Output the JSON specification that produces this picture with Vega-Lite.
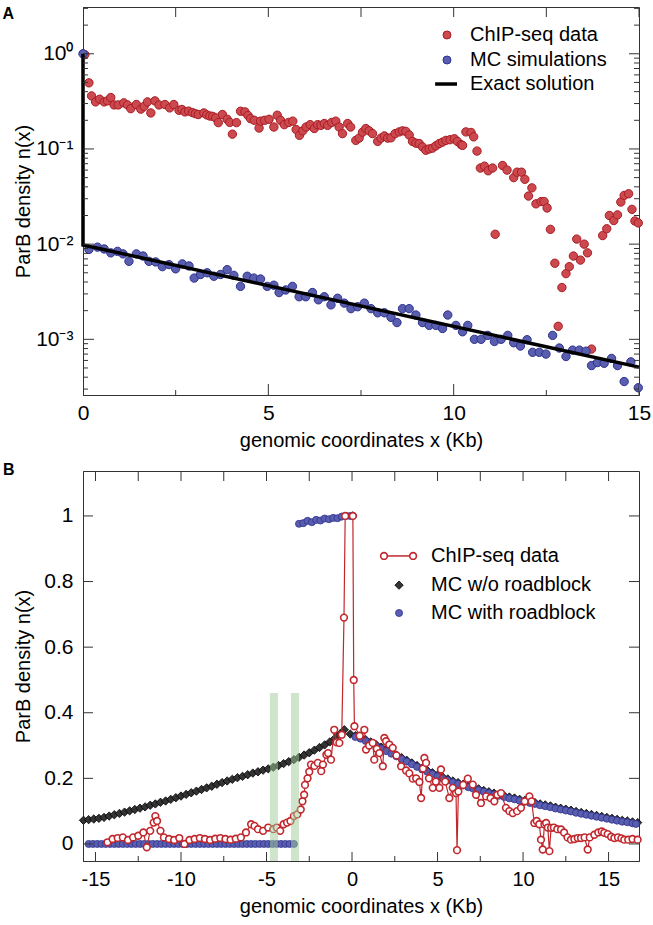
{
"$schema": "https://vega.github.io/schema/vega-lite/v6.json",
"background": "white",
"padding": {"left": 2, "top": 5, "right": 5, "bottom": 2},
"spacing": 10,
"config": {
 "font": "Liberation Sans",
 "view": {"stroke": "#333", "strokeWidth": 1},
 "axis": {"domainColor": "#333", "labelColor": "#000", "titleColor": "#000", "labelFont": "Liberation Sans", "titleFont": "Liberation Sans", "labelFontSize": 20, "titleFontSize": 20, "titleFontWeight": "normal", "ticks": false, "grid": false, "labelOverlap": false, "labelFlush": false, "domainWidth": 1},
 "tick": {"thickness": 1, "color": "#333", "opacity": 1},
 "text": {"font": "Liberation Sans", "fontSize": 20, "color": "#000", "align": "left", "baseline": "middle"}
},
"datasets": {
 "aXMaj": [{"v":0},{"v":5},{"v":10},{"v":15}],
 "aXMin": [{"v":2.5},{"v":7.5},{"v":12.5}],
 "aXAll": [{"v":0},{"v":2.5},{"v":5},{"v":7.5},{"v":10},{"v":12.5},{"v":15}],
 "aYMaj": [{"v":0.001},{"v":0.01},{"v":0.1},{"v":1}],
 "aYMin": [{"v":0.0003},{"v":0.0004},{"v":0.0005},{"v":0.0006},{"v":0.0007},{"v":0.0008},{"v":0.0009},{"v":0.002},{"v":0.003},{"v":0.004},{"v":0.005},{"v":0.006},{"v":0.007},{"v":0.008},{"v":0.009},{"v":0.02},{"v":0.03},{"v":0.04},{"v":0.05},{"v":0.06},{"v":0.07},{"v":0.08},{"v":0.09},{"v":0.2},{"v":0.3},{"v":0.4},{"v":0.5},{"v":0.6},{"v":0.7},{"v":0.8},{"v":0.9},{"v":2},{"v":3}],
 "bXMaj": [{"v":-15},{"v":-10},{"v":-5},{"v":0},{"v":5},{"v":10},{"v":15}],
 "bXMin": [{"v":-12.5},{"v":-7.5},{"v":-2.5},{"v":2.5},{"v":7.5},{"v":12.5}],
 "bXAll": [{"v":-15},{"v":-12.5},{"v":-10},{"v":-7.5},{"v":-5},{"v":-2.5},{"v":0},{"v":2.5},{"v":5},{"v":7.5},{"v":10},{"v":12.5},{"v":15}],
 "bY": [{"v":0},{"v":0.2},{"v":0.4},{"v":0.6},{"v":0.8},{"v":1}],
 "aRed": [{"x":0.05,"y":0.98},{"x":0.16,"y":0.495},{"x":0.23,"y":0.361},{"x":0.34,"y":0.312},{"x":0.45,"y":0.333},{"x":0.57,"y":0.312},{"x":0.66,"y":0.32},{"x":0.75,"y":0.347},{"x":0.84,"y":0.29},{"x":0.95,"y":0.29},{"x":1.1,"y":0.305},{"x":1.2,"y":0.29},{"x":1.29,"y":0.265},{"x":1.44,"y":0.293},{"x":1.56,"y":0.262},{"x":1.65,"y":0.28},{"x":1.74,"y":0.312},{"x":1.83,"y":0.239},{"x":1.94,"y":0.32},{"x":2.05,"y":0.29},{"x":2.21,"y":0.293},{"x":2.34,"y":0.27},{"x":2.45,"y":0.293},{"x":2.59,"y":0.255},{"x":2.67,"y":0.26},{"x":2.75,"y":0.245},{"x":2.85,"y":0.25},{"x":2.95,"y":0.241},{"x":3.03,"y":0.235},{"x":3.11,"y":0.23},{"x":3.26,"y":0.239},{"x":3.34,"y":0.228},{"x":3.42,"y":0.222},{"x":3.5,"y":0.22},{"x":3.58,"y":0.212},{"x":3.65,"y":0.189},{"x":3.76,"y":0.23},{"x":3.89,"y":0.205},{"x":3.96,"y":0.19},{"x":4.03,"y":0.143},{"x":4.14,"y":0.189},{"x":4.25,"y":0.249},{"x":4.37,"y":0.245},{"x":4.45,"y":0.225},{"x":4.52,"y":0.208},{"x":4.62,"y":0.2},{"x":4.75,"y":0.166},{"x":4.79,"y":0.196},{"x":4.9,"y":0.2},{"x":5.02,"y":0.205},{"x":5.15,"y":0.17},{"x":5.24,"y":0.226},{"x":5.33,"y":0.2},{"x":5.43,"y":0.18},{"x":5.55,"y":0.19},{"x":5.66,"y":0.196},{"x":5.75,"y":0.16},{"x":5.84,"y":0.139},{"x":5.93,"y":0.155},{"x":6.02,"y":0.17},{"x":6.13,"y":0.18},{"x":6.24,"y":0.164},{"x":6.33,"y":0.18},{"x":6.42,"y":0.177},{"x":6.51,"y":0.185},{"x":6.6,"y":0.177},{"x":6.71,"y":0.19},{"x":6.82,"y":0.196},{"x":6.91,"y":0.17},{"x":7.0,"y":0.145},{"x":7.14,"y":0.185},{"x":7.22,"y":0.17},{"x":7.36,"y":0.123},{"x":7.45,"y":0.13},{"x":7.54,"y":0.15},{"x":7.63,"y":0.164},{"x":7.72,"y":0.155},{"x":7.81,"y":0.145},{"x":7.95,"y":0.12},{"x":8.04,"y":0.13},{"x":8.13,"y":0.137},{"x":8.22,"y":0.13},{"x":8.31,"y":0.131},{"x":8.42,"y":0.145},{"x":8.53,"y":0.151},{"x":8.62,"y":0.155},{"x":8.71,"y":0.153},{"x":8.8,"y":0.14},{"x":8.89,"y":0.12},{"x":8.98,"y":0.115},{"x":9.07,"y":0.114},{"x":9.16,"y":0.105},{"x":9.25,"y":0.097},{"x":9.34,"y":0.1},{"x":9.43,"y":0.102},{"x":9.52,"y":0.108},{"x":9.61,"y":0.114},{"x":9.7,"y":0.118},{"x":9.79,"y":0.123},{"x":9.9,"y":0.125},{"x":10.02,"y":0.128},{"x":10.1,"y":0.12},{"x":10.2,"y":0.111},{"x":10.24,"y":0.109},{"x":10.33,"y":0.151},{"x":10.47,"y":0.149},{"x":10.54,"y":0.134},{"x":10.63,"y":0.095},{"x":10.72,"y":0.063},{"x":10.83,"y":0.066},{"x":10.93,"y":0.059},{"x":11.05,"y":0.063},{"x":11.12,"y":0.0127},{"x":11.32,"y":0.067},{"x":11.44,"y":0.06},{"x":11.62,"y":0.05},{"x":11.71,"y":0.057},{"x":11.83,"y":0.057},{"x":11.92,"y":0.048},{"x":12.02,"y":0.032},{"x":12.11,"y":0.039},{"x":12.22,"y":0.0265},{"x":12.36,"y":0.028},{"x":12.44,"y":0.028},{"x":12.52,"y":0.024},{"x":12.61,"y":0.0143},{"x":12.73,"y":0.0063},{"x":12.82,"y":0.00137},{"x":12.92,"y":0.0035},{"x":13.03,"y":0.0049},{"x":13.12,"y":0.0058},{"x":13.23,"y":0.0075},{"x":13.32,"y":0.0113},{"x":13.42,"y":0.0068},{"x":13.52,"y":0.01},{"x":13.61,"y":0.0081},{"x":13.72,"y":0.00079},{"x":14.02,"y":0.0123},{"x":14.13,"y":0.0145},{"x":14.2,"y":0.02},{"x":14.32,"y":0.0177},{"x":14.42,"y":0.0203},{"x":14.51,"y":0.0277},{"x":14.6,"y":0.0325},{"x":14.72,"y":0.0338},{"x":14.81,"y":0.0232},{"x":14.89,"y":0.0175},{"x":14.98,"y":0.0167}],
 "aBlue": [{"x":0,"y":1.0},{"x":0.16,"y":0.0088},{"x":0.39,"y":0.0093},{"x":0.57,"y":0.0089},{"x":0.75,"y":0.0081},{"x":0.93,"y":0.0084},{"x":1.08,"y":0.0079},{"x":1.24,"y":0.0066},{"x":1.44,"y":0.0079},{"x":1.62,"y":0.0075},{"x":1.78,"y":0.0066},{"x":1.96,"y":0.0065},{"x":2.14,"y":0.0058},{"x":2.32,"y":0.0061},{"x":2.5,"y":0.0055},{"x":2.68,"y":0.0062},{"x":2.86,"y":0.0059},{"x":3.0,"y":0.0044},{"x":3.17,"y":0.0048},{"x":3.35,"y":0.005},{"x":3.53,"y":0.0046},{"x":3.71,"y":0.0048},{"x":3.89,"y":0.0054},{"x":4.07,"y":0.0047},{"x":4.25,"y":0.0036},{"x":4.43,"y":0.0046},{"x":4.61,"y":0.0044},{"x":4.79,"y":0.0043},{"x":4.97,"y":0.0036},{"x":5.15,"y":0.0037},{"x":5.29,"y":0.0031},{"x":5.47,"y":0.0033},{"x":5.65,"y":0.0036},{"x":5.83,"y":0.0028},{"x":6.01,"y":0.0028},{"x":6.19,"y":0.0031},{"x":6.35,"y":0.0026},{"x":6.51,"y":0.0028},{"x":6.69,"y":0.0023},{"x":6.87,"y":0.0027},{"x":7.05,"y":0.0024},{"x":7.23,"y":0.0021},{"x":7.41,"y":0.0022},{"x":7.59,"y":0.0024},{"x":7.77,"y":0.0021},{"x":7.95,"y":0.0019},{"x":8.13,"y":0.0019},{"x":8.31,"y":0.0017},{"x":8.47,"y":0.0015},{"x":8.62,"y":0.0021},{"x":8.8,"y":0.0021},{"x":8.98,"y":0.0018},{"x":9.16,"y":0.0015},{"x":9.34,"y":0.0014},{"x":9.52,"y":0.0014},{"x":9.7,"y":0.0013},{"x":9.84,"y":0.0018},{"x":10.06,"y":0.0014},{"x":10.24,"y":0.0012},{"x":10.38,"y":0.0014},{"x":10.56,"y":0.001},{"x":10.74,"y":0.001},{"x":10.92,"y":0.0011},{"x":11.1,"y":0.00095},{"x":11.28,"y":0.001},{"x":11.46,"y":0.0011},{"x":11.62,"y":0.00092},{"x":11.8,"y":0.00085},{"x":11.98,"y":0.00099},{"x":12.13,"y":0.00073},{"x":12.31,"y":0.00073},{"x":12.49,"y":0.0007},{"x":12.67,"y":0.0011},{"x":12.85,"y":0.00081},{"x":13.03,"y":0.00066},{"x":13.21,"y":0.00077},{"x":13.39,"y":0.00077},{"x":13.57,"y":0.00075},{"x":13.72,"y":0.00053},{"x":13.88,"y":0.00057},{"x":14.06,"y":0.00056},{"x":14.26,"y":0.00063},{"x":14.42,"y":0.00053},{"x":14.6,"y":0.00036},{"x":14.78,"y":0.00058},{"x":14.98,"y":0.00031}],
 "aExact": [{"x":0,"y":1.0},{"x":0,"y":0.0098},{"x":15,"y":0.00051}],
 "bBlack": [{"x":-15.7,"y":0.072},{"x":-15.4,"y":0.074},{"x":-15.1,"y":0.076},{"x":-14.8,"y":0.078},{"x":-14.5,"y":0.081},{"x":-14.2,"y":0.085},{"x":-13.9,"y":0.089},{"x":-13.6,"y":0.093},{"x":-13.3,"y":0.097},{"x":-13.0,"y":0.101},{"x":-12.7,"y":0.105},{"x":-12.4,"y":0.109},{"x":-12.1,"y":0.113},{"x":-11.8,"y":0.118},{"x":-11.5,"y":0.122},{"x":-11.2,"y":0.127},{"x":-10.9,"y":0.131},{"x":-10.6,"y":0.136},{"x":-10.3,"y":0.141},{"x":-10.0,"y":0.146},{"x":-9.7,"y":0.151},{"x":-9.4,"y":0.156},{"x":-9.1,"y":0.161},{"x":-8.8,"y":0.166},{"x":-8.5,"y":0.171},{"x":-8.2,"y":0.176},{"x":-7.9,"y":0.182},{"x":-7.6,"y":0.187},{"x":-7.3,"y":0.192},{"x":-7.0,"y":0.197},{"x":-6.7,"y":0.202},{"x":-6.4,"y":0.206},{"x":-6.1,"y":0.211},{"x":-5.8,"y":0.216},{"x":-5.5,"y":0.22},{"x":-5.2,"y":0.225},{"x":-4.9,"y":0.229},{"x":-4.6,"y":0.234},{"x":-4.3,"y":0.239},{"x":-4.0,"y":0.245},{"x":-3.7,"y":0.251},{"x":-3.4,"y":0.257},{"x":-3.1,"y":0.264},{"x":-2.8,"y":0.271},{"x":-2.5,"y":0.278},{"x":-2.2,"y":0.286},{"x":-1.9,"y":0.294},{"x":-1.6,"y":0.302},{"x":-1.3,"y":0.311},{"x":-1.0,"y":0.322},{"x":-0.7,"y":0.335},{"x":-0.45,"y":0.348},{"x":0.05,"y":1.0},{"x":-0.1,"y":0.335},{"x":0.2,"y":0.33},{"x":0.5,"y":0.325},{"x":0.8,"y":0.318},{"x":1.1,"y":0.311},{"x":1.4,"y":0.303},{"x":1.7,"y":0.295},{"x":2.0,"y":0.287},{"x":2.3,"y":0.279},{"x":2.6,"y":0.271},{"x":2.9,"y":0.263},{"x":3.2,"y":0.255},{"x":3.5,"y":0.247},{"x":3.8,"y":0.239},{"x":4.1,"y":0.231},{"x":4.4,"y":0.224},{"x":4.7,"y":0.217},{"x":5.0,"y":0.21},{"x":5.3,"y":0.204},{"x":5.6,"y":0.198},{"x":5.9,"y":0.192},{"x":6.2,"y":0.187},{"x":6.5,"y":0.182},{"x":6.8,"y":0.177},{"x":7.1,"y":0.172},{"x":7.4,"y":0.168},{"x":7.7,"y":0.163},{"x":8.0,"y":0.159},{"x":8.3,"y":0.155},{"x":8.6,"y":0.151},{"x":8.9,"y":0.147},{"x":9.2,"y":0.143},{"x":9.5,"y":0.14},{"x":9.8,"y":0.136},{"x":10.1,"y":0.133},{"x":10.4,"y":0.129},{"x":10.7,"y":0.126},{"x":11.0,"y":0.122},{"x":11.3,"y":0.119},{"x":11.6,"y":0.116},{"x":11.9,"y":0.112},{"x":12.2,"y":0.109},{"x":12.5,"y":0.106},{"x":12.8,"y":0.103},{"x":13.1,"y":0.099},{"x":13.4,"y":0.096},{"x":13.7,"y":0.093},{"x":14.0,"y":0.09},{"x":14.3,"y":0.087},{"x":14.6,"y":0.084},{"x":14.9,"y":0.081},{"x":15.2,"y":0.078},{"x":15.5,"y":0.075},{"x":15.8,"y":0.072},{"x":16.1,"y":0.07},{"x":16.4,"y":0.067},{"x":16.7,"y":0.065}],
 "bBlue": [{"x":-15.4,"y":0},{"x":-15.15,"y":0},{"x":-14.9,"y":0},{"x":-14.65,"y":0},{"x":-14.4,"y":0},{"x":-14.15,"y":0},{"x":-13.9,"y":0},{"x":-13.65,"y":0},{"x":-13.4,"y":0},{"x":-13.15,"y":0},{"x":-12.9,"y":0},{"x":-12.65,"y":0},{"x":-12.4,"y":0},{"x":-12.15,"y":0},{"x":-11.9,"y":0},{"x":-11.65,"y":0},{"x":-11.4,"y":0},{"x":-11.15,"y":0},{"x":-10.9,"y":0},{"x":-10.65,"y":0},{"x":-10.4,"y":0},{"x":-10.15,"y":0},{"x":-9.9,"y":0},{"x":-9.65,"y":0},{"x":-9.4,"y":0},{"x":-9.15,"y":0},{"x":-8.9,"y":0},{"x":-8.65,"y":0},{"x":-8.4,"y":0},{"x":-8.15,"y":0},{"x":-7.9,"y":0},{"x":-7.65,"y":0},{"x":-7.4,"y":0},{"x":-7.15,"y":0},{"x":-6.9,"y":0},{"x":-6.65,"y":0},{"x":-6.4,"y":0},{"x":-6.15,"y":0},{"x":-5.9,"y":0},{"x":-5.65,"y":0},{"x":-5.4,"y":0},{"x":-5.15,"y":0},{"x":-4.9,"y":0},{"x":-4.65,"y":0},{"x":-4.4,"y":0},{"x":-4.15,"y":0},{"x":-3.9,"y":0},{"x":-3.65,"y":0},{"x":-3.4,"y":0},{"x":-3.1,"y":0.976},{"x":-2.85,"y":0.978},{"x":-2.6,"y":0.985},{"x":-2.35,"y":0.981},{"x":-2.1,"y":0.988},{"x":-1.85,"y":0.986},{"x":-1.6,"y":0.992},{"x":-1.35,"y":0.99},{"x":-1.1,"y":0.994},{"x":-0.85,"y":0.993},{"x":-0.6,"y":0.998},{"x":-0.35,"y":1.0},{"x":-0.1,"y":1.0},{"x":0.05,"y":1.0},{"x":0.2,"y":0.326},{"x":0.5,"y":0.321},{"x":0.8,"y":0.314},{"x":1.1,"y":0.307},{"x":1.4,"y":0.299},{"x":1.7,"y":0.291},{"x":2.0,"y":0.283},{"x":2.3,"y":0.275},{"x":2.6,"y":0.267},{"x":2.9,"y":0.259},{"x":3.2,"y":0.251},{"x":3.5,"y":0.243},{"x":3.8,"y":0.235},{"x":4.1,"y":0.227},{"x":4.4,"y":0.22},{"x":4.7,"y":0.213},{"x":5.0,"y":0.206},{"x":5.3,"y":0.2},{"x":5.6,"y":0.194},{"x":5.9,"y":0.188},{"x":6.2,"y":0.183},{"x":6.5,"y":0.178},{"x":6.8,"y":0.173},{"x":7.1,"y":0.168},{"x":7.4,"y":0.164},{"x":7.7,"y":0.159},{"x":8.0,"y":0.155},{"x":8.3,"y":0.151},{"x":8.6,"y":0.147},{"x":8.9,"y":0.143},{"x":9.2,"y":0.139},{"x":9.5,"y":0.136},{"x":9.8,"y":0.132},{"x":10.1,"y":0.129},{"x":10.4,"y":0.125},{"x":10.7,"y":0.122},{"x":11.0,"y":0.118},{"x":11.3,"y":0.115},{"x":11.6,"y":0.112},{"x":11.9,"y":0.108},{"x":12.2,"y":0.105},{"x":12.5,"y":0.102},{"x":12.8,"y":0.099},{"x":13.1,"y":0.095},{"x":13.4,"y":0.092},{"x":13.7,"y":0.089},{"x":14.0,"y":0.086},{"x":14.3,"y":0.083},{"x":14.6,"y":0.08},{"x":14.9,"y":0.077},{"x":15.2,"y":0.074},{"x":15.5,"y":0.071},{"x":15.8,"y":0.068},{"x":16.1,"y":0.066},{"x":16.4,"y":0.063},{"x":16.6,"y":0.061}],
 "bRed": [{"x":-14.3,"y":0.005},{"x":-14.0,"y":0.015},{"x":-13.7,"y":0.018},{"x":-13.4,"y":0.02},{"x":-13.1,"y":0.012},{"x":-12.8,"y":0.02},{"x":-12.5,"y":0.025},{"x":-12.2,"y":0.035},{"x":-12.0,"y":-0.01},{"x":-11.8,"y":0.04},{"x":-11.6,"y":0.065},{"x":-11.5,"y":0.085},{"x":-11.4,"y":0.07},{"x":-11.2,"y":0.04},{"x":-11.0,"y":0.02},{"x":-10.7,"y":0.015},{"x":-10.4,"y":0.012},{"x":-10.1,"y":0.018},{"x":-9.8,"y":0.0},{"x":-9.5,"y":0.012},{"x":-9.2,"y":0.015},{"x":-8.9,"y":0.018},{"x":-8.6,"y":0.015},{"x":-8.3,"y":0.012},{"x":-8.0,"y":0.016},{"x":-7.7,"y":0.018},{"x":-7.4,"y":0.015},{"x":-7.1,"y":0.013},{"x":-6.8,"y":0.016},{"x":-6.5,"y":0.02},{"x":-6.2,"y":0.035},{"x":-5.9,"y":0.06},{"x":-5.7,"y":0.055},{"x":-5.5,"y":0.045},{"x":-5.2,"y":0.04},{"x":-4.9,"y":0.05},{"x":-4.6,"y":0.045},{"x":-4.4,"y":0.05},{"x":-4.2,"y":0.04},{"x":-4.0,"y":0.06},{"x":-3.8,"y":0.065},{"x":-3.6,"y":0.07},{"x":-3.4,"y":0.085},{"x":-3.2,"y":0.09},{"x":-3.0,"y":0.105},{"x":-2.9,"y":0.13},{"x":-2.8,"y":0.15},{"x":-2.75,"y":0.18},{"x":-2.6,"y":0.2},{"x":-2.5,"y":0.22},{"x":-2.4,"y":0.242},{"x":-2.2,"y":0.238},{"x":-2.0,"y":0.247},{"x":-1.8,"y":0.222},{"x":-1.7,"y":0.242},{"x":-1.5,"y":0.272},{"x":-1.4,"y":0.277},{"x":-1.23,"y":0.257},{"x":-1.04,"y":0.348},{"x":-0.9,"y":0.31},{"x":-0.74,"y":0.308},{"x":-0.6,"y":0.333},{"x":-0.47,"y":0.69},{"x":-0.4,"y":1.0},{"x":0.05,"y":1.0},{"x":0.1,"y":0.5},{"x":0.14,"y":0.359},{"x":0.45,"y":0.33},{"x":0.72,"y":0.348},{"x":0.82,"y":0.288},{"x":1.0,"y":0.3},{"x":1.21,"y":0.308},{"x":1.3,"y":0.257},{"x":1.45,"y":0.29},{"x":1.6,"y":0.277},{"x":1.8,"y":0.237},{"x":1.89,"y":0.323},{"x":1.99,"y":0.313},{"x":2.18,"y":0.303},{"x":2.38,"y":0.293},{"x":2.6,"y":0.27},{"x":2.87,"y":0.237},{"x":3.16,"y":0.224},{"x":3.35,"y":0.215},{"x":3.55,"y":0.199},{"x":3.75,"y":0.2},{"x":3.94,"y":0.189},{"x":4.04,"y":0.14},{"x":4.15,"y":0.23},{"x":4.23,"y":0.262},{"x":4.33,"y":0.247},{"x":4.5,"y":0.2},{"x":4.72,"y":0.171},{"x":4.9,"y":0.19},{"x":5.11,"y":0.171},{"x":5.2,"y":0.227},{"x":5.45,"y":0.19},{"x":5.69,"y":0.14},{"x":5.89,"y":0.171},{"x":6.08,"y":0.155},{"x":6.14,"y":-0.019},{"x":6.22,"y":0.16},{"x":6.5,"y":0.18},{"x":6.77,"y":0.199},{"x":7.06,"y":0.181},{"x":7.25,"y":0.15},{"x":7.54,"y":0.125},{"x":7.84,"y":0.145},{"x":8.1,"y":0.14},{"x":8.32,"y":0.13},{"x":8.5,"y":0.15},{"x":8.71,"y":0.155},{"x":9.0,"y":0.11},{"x":9.2,"y":0.1},{"x":9.4,"y":0.094},{"x":9.65,"y":0.1},{"x":9.88,"y":0.11},{"x":10.1,"y":0.13},{"x":10.37,"y":0.145},{"x":10.5,"y":0.13},{"x":10.66,"y":0.064},{"x":10.8,"y":0.07},{"x":10.95,"y":0.06},{"x":11.05,"y":0.013},{"x":11.15,"y":-0.017},{"x":11.25,"y":0.06},{"x":11.35,"y":0.064},{"x":11.45,"y":0.05},{"x":11.54,"y":-0.022},{"x":11.64,"y":0.049},{"x":11.8,"y":0.05},{"x":12.0,"y":0.045},{"x":12.22,"y":0.044},{"x":12.4,"y":0.035},{"x":12.6,"y":0.02},{"x":12.8,"y":0.013},{"x":13.0,"y":0.015},{"x":13.2,"y":0.018},{"x":13.39,"y":0.018},{"x":13.6,"y":0.02},{"x":13.78,"y":-0.017},{"x":13.9,"y":0.02},{"x":14.17,"y":0.028},{"x":14.4,"y":0.035},{"x":14.6,"y":0.038},{"x":14.75,"y":0.034},{"x":14.95,"y":0.03},{"x":15.15,"y":0.022},{"x":15.34,"y":0.018},{"x":15.55,"y":0.02},{"x":15.75,"y":0.017},{"x":15.92,"y":0.013},{"x":16.15,"y":0.013},{"x":16.4,"y":0.015},{"x":16.7,"y":0.013}],
 "bBands": [{"x1":-4.8,"x2":-4.33,"top":0.46,"bottom":-0.052},{"x1":-3.57,"x2":-3.1,"top":0.46,"bottom":-0.052}]
},
"vconcat": [
 {
  "width": 556, "height": 388,
  "resolve": {"axis": {"x": "independent", "y": "independent"}},
  "layer": [
   {
    "data": {"name": "aRed"},
    "mark": {"type": "point", "filled": true, "shape": "circle", "size": 70, "fill": "#cc4a4f", "stroke": "#a81c22", "strokeWidth": 1, "opacity": 1},
    "encoding": {
     "x": {"field": "x", "type": "quantitative", "scale": {"domain": [0, 15], "nice": false, "zero": false},
      "axis": {"orient": "bottom", "values": [0, 5, 10, 15], "labelExpr": "'' + datum.value", "labelPadding": 7.5, "labelFontSize": 21, "title": "genomic coordinates x (Kb)", "titleY": 35, "titleBaseline": "top"}},
     "y": {"field": "y", "type": "quantitative", "scale": {"type": "log", "domain": [0.00026, 3.1], "nice": false},
      "axis": {"orient": "left", "values": [0.001, 0.01, 0.1, 1], "labelExpr": "datum.value === 1 ? '10⁰' : datum.value === 0.1 ? '10⁻¹' : datum.value === 0.01 ? '10⁻²' : '10⁻³'", "labelPadding": 10, "labelFontSize": 21, "title": "ParB density n(x)", "titleX": -50, "titleY": 194, "titleAngle": 270, "titleBaseline": "bottom"}}
    }
   },
   {
    "data": {"name": "aBlue"},
    "mark": {"type": "point", "filled": true, "shape": "circle", "size": 70, "fill": "#5a5eae", "stroke": "#2e3290", "strokeWidth": 1, "opacity": 1},
    "encoding": {
     "x": {"field": "x", "type": "quantitative", "scale": {"domain": [0, 15], "nice": false, "zero": false}, "axis": null},
     "y": {"field": "y", "type": "quantitative", "scale": {"type": "log", "domain": [0.00026, 3.1], "nice": false}, "axis": null}
    }
   },
   {
    "data": {"name": "aExact"},
    "mark": {"type": "line", "color": "#000000", "strokeWidth": 3.5},
    "encoding": {
     "x": {"field": "x", "type": "quantitative", "sort": null, "scale": {"domain": [0, 15], "nice": false, "zero": false}, "axis": null},
     "y": {"field": "y", "type": "quantitative", "scale": {"type": "log", "domain": [0.00026, 3.1], "nice": false}, "axis": null}
    }
   },
   {"data": {"name": "aXMaj"}, "mark": {"type": "tick", "orient": "vertical", "size": 22, "clip": true},
    "encoding": {"x": {"field": "v", "type": "quantitative", "scale": {"domain": [0, 15], "nice": false, "zero": false}, "axis": null}, "y": {"datum": 0.00026, "type": "quantitative", "scale": {"type": "log", "domain": [0.00026, 3.1], "nice": false}, "axis": null}}},
   {"data": {"name": "aXMin"}, "mark": {"type": "tick", "orient": "vertical", "size": 10, "clip": true},
    "encoding": {"x": {"field": "v", "type": "quantitative", "scale": {"domain": [0, 15], "nice": false, "zero": false}, "axis": null}, "y": {"datum": 0.00026, "type": "quantitative", "scale": {"type": "log", "domain": [0.00026, 3.1], "nice": false}, "axis": null}}},
   {"data": {"name": "aXAll"}, "mark": {"type": "tick", "orient": "vertical", "size": 20, "clip": true},
    "encoding": {"x": {"field": "v", "type": "quantitative", "scale": {"domain": [0, 15], "nice": false, "zero": false}, "axis": null}, "y": {"datum": 3.1, "type": "quantitative", "scale": {"type": "log", "domain": [0.00026, 3.1], "nice": false}, "axis": null}}},
   {"data": {"name": "aYMaj"}, "mark": {"type": "tick", "orient": "horizontal", "size": 22, "clip": true},
    "encoding": {"y": {"field": "v", "type": "quantitative", "scale": {"type": "log", "domain": [0.00026, 3.1], "nice": false}, "axis": null}, "x": {"datum": 0, "type": "quantitative", "scale": {"domain": [0, 15], "nice": false, "zero": false}, "axis": null}}},
   {"data": {"name": "aYMin"}, "mark": {"type": "tick", "orient": "horizontal", "size": 10, "clip": true},
    "encoding": {"y": {"field": "v", "type": "quantitative", "scale": {"type": "log", "domain": [0.00026, 3.1], "nice": false}, "axis": null}, "x": {"datum": 0, "type": "quantitative", "scale": {"domain": [0, 15], "nice": false, "zero": false}, "axis": null}}},
   {"data": {"name": "aYMaj"}, "mark": {"type": "tick", "orient": "horizontal", "size": 20, "clip": true},
    "encoding": {"y": {"field": "v", "type": "quantitative", "scale": {"type": "log", "domain": [0.00026, 3.1], "nice": false}, "axis": null}, "x": {"datum": 15, "type": "quantitative", "scale": {"domain": [0, 15], "nice": false, "zero": false}, "axis": null}}},
   {"data": {"name": "aYMin"}, "mark": {"type": "tick", "orient": "horizontal", "size": 10, "clip": true},
    "encoding": {"y": {"field": "v", "type": "quantitative", "scale": {"type": "log", "domain": [0.00026, 3.1], "nice": false}, "axis": null}, "x": {"datum": 15, "type": "quantitative", "scale": {"domain": [0, 15], "nice": false, "zero": false}, "axis": null}}},
   {"data": {"values": [{}]}, "mark": {"type": "point", "filled": true, "shape": "circle", "size": 64, "fill": "#cc4a4f", "stroke": "#a81c22", "strokeWidth": 1, "opacity": 1},
    "encoding": {"x": {"datum": 9.82, "type": "quantitative", "scale": {"domain": [0, 15], "nice": false, "zero": false}, "axis": null}, "y": {"datum": 1.575, "type": "quantitative", "scale": {"type": "log", "domain": [0.00026, 3.1], "nice": false}, "axis": null}}},
   {"data": {"values": [{}]}, "mark": {"type": "point", "filled": true, "shape": "circle", "size": 64, "fill": "#5a5eae", "stroke": "#2e3290", "strokeWidth": 1, "opacity": 1},
    "encoding": {"x": {"datum": 9.82, "type": "quantitative", "scale": {"domain": [0, 15], "nice": false, "zero": false}, "axis": null}, "y": {"datum": 0.86, "type": "quantitative", "scale": {"type": "log", "domain": [0.00026, 3.1], "nice": false}, "axis": null}}},
   {"data": {"values": [{}]}, "mark": {"type": "rule", "color": "#000000", "strokeWidth": 3.5},
    "encoding": {"x": {"datum": 9.5, "type": "quantitative", "scale": {"domain": [0, 15], "nice": false, "zero": false}, "axis": null}, "x2": {"datum": 10.09}, "y": {"datum": 0.481, "type": "quantitative", "scale": {"type": "log", "domain": [0.00026, 3.1], "nice": false}, "axis": null}}},
   {"data": {"values": [{}]}, "mark": {"type": "text", "text": "ChIP-seq data"},
    "encoding": {"x": {"datum": 10.44, "type": "quantitative", "scale": {"domain": [0, 15], "nice": false, "zero": false}, "axis": null}, "y": {"datum": 1.575, "type": "quantitative", "scale": {"type": "log", "domain": [0.00026, 3.1], "nice": false}, "axis": null}}},
   {"data": {"values": [{}]}, "mark": {"type": "text", "text": "MC simulations"},
    "encoding": {"x": {"datum": 10.44, "type": "quantitative", "scale": {"domain": [0, 15], "nice": false, "zero": false}, "axis": null}, "y": {"datum": 0.86, "type": "quantitative", "scale": {"type": "log", "domain": [0.00026, 3.1], "nice": false}, "axis": null}}},
   {"data": {"values": [{}]}, "mark": {"type": "text", "text": "Exact solution"},
    "encoding": {"x": {"datum": 10.44, "type": "quantitative", "scale": {"domain": [0, 15], "nice": false, "zero": false}, "axis": null}, "y": {"datum": 0.481, "type": "quantitative", "scale": {"type": "log", "domain": [0.00026, 3.1], "nice": false}, "axis": null}}},
   {
    "data": {"values": [{}]},
    "mark": {"type": "text", "text": "A", "align": "left", "baseline": "alphabetic", "fontSize": 16, "fontWeight": "bold"},
    "encoding": {
     "x": {"datum": -2.17, "type": "quantitative", "scale": {"domain": [0, 15], "nice": false, "zero": false}, "axis": null},
     "y": {"datum": 2.32, "type": "quantitative", "scale": {"type": "log", "domain": [0.00026, 3.1], "nice": false}, "axis": null}
    }
   }
  ]
 },
 {
  "width": 556, "height": 390,
  "resolve": {"axis": {"x": "independent", "y": "independent"}},
  "layer": [
   {
    "data": {"name": "bBlack"},
    "mark": {"type": "point", "filled": true, "shape": "diamond", "size": 70, "fill": "#333333", "stroke": "#000000", "strokeWidth": 0.8, "opacity": 1},
    "encoding": {
     "x": {"field": "x", "type": "quantitative", "scale": {"domain": [-15.73, 16.78], "nice": false, "zero": false},
      "axis": {"orient": "bottom", "values": [-15, -10, -5, 0, 5, 10, 15], "labelExpr": "datum.value < 0 ? '-' + abs(datum.value) : '' + datum.value", "labelPadding": 8, "title": "genomic coordinates x (Kb)", "titleY": 35, "titleBaseline": "top"}},
     "y": {"field": "y", "type": "quantitative", "scale": {"domain": [-0.052, 1.137], "nice": false, "zero": false},
      "axis": {"orient": "left", "values": [0, 0.2, 0.4, 0.6, 0.8, 1], "labelExpr": "'' + datum.value", "labelPadding": 10, "labelFontSize": 21, "title": "ParB density n(x)", "titleX": -50, "titleY": 195, "titleAngle": 270, "titleBaseline": "bottom"}}
    }
   },
   {
    "data": {"name": "bBlue"},
    "mark": {"type": "point", "filled": true, "shape": "circle", "size": 50, "fill": "#5a5eae", "stroke": "#2e3290", "strokeWidth": 0.8, "opacity": 1},
    "encoding": {
     "x": {"field": "x", "type": "quantitative", "scale": {"domain": [-15.73, 16.78], "nice": false, "zero": false}, "axis": null},
     "y": {"field": "y", "type": "quantitative", "scale": {"domain": [-0.052, 1.137], "nice": false, "zero": false}, "axis": null}
    }
   },
   {
    "data": {"name": "bRed"},
    "mark": {"type": "line", "color": "#c1272d", "strokeWidth": 1.2},
    "encoding": {
     "x": {"field": "x", "type": "quantitative", "scale": {"domain": [-15.73, 16.78], "nice": false, "zero": false}, "axis": null},
     "y": {"field": "y", "type": "quantitative", "scale": {"domain": [-0.052, 1.137], "nice": false, "zero": false}, "axis": null}
    }
   },
   {
    "data": {"name": "bRed"},
    "mark": {"type": "point", "filled": true, "shape": "circle", "size": 45, "fill": "#ffffff", "stroke": "#c1272d", "strokeWidth": 1.6, "opacity": 1},
    "encoding": {
     "x": {"field": "x", "type": "quantitative", "scale": {"domain": [-15.73, 16.78], "nice": false, "zero": false}, "axis": null},
     "y": {"field": "y", "type": "quantitative", "scale": {"domain": [-0.052, 1.137], "nice": false, "zero": false}, "axis": null}
    }
   },
   {
    "data": {"name": "bBands"},
    "mark": {"type": "rect", "color": "#9fcb97", "opacity": 0.5},
    "encoding": {
     "x": {"field": "x1", "type": "quantitative", "scale": {"domain": [-15.73, 16.78], "nice": false, "zero": false}, "axis": null},
     "x2": {"field": "x2"},
     "y": {"field": "top", "type": "quantitative", "scale": {"domain": [-0.052, 1.137], "nice": false, "zero": false}, "axis": null},
     "y2": {"field": "bottom"}
    }
   },
   {"data": {"name": "bXMaj"}, "mark": {"type": "tick", "orient": "vertical", "size": 18, "clip": true},
    "encoding": {"x": {"field": "v", "type": "quantitative", "scale": {"domain": [-15.73, 16.78], "nice": false, "zero": false}, "axis": null}, "y": {"datum": -0.052, "type": "quantitative", "scale": {"domain": [-0.052, 1.137], "nice": false, "zero": false}, "axis": null}}},
   {"data": {"name": "bXMin"}, "mark": {"type": "tick", "orient": "vertical", "size": 10, "clip": true},
    "encoding": {"x": {"field": "v", "type": "quantitative", "scale": {"domain": [-15.73, 16.78], "nice": false, "zero": false}, "axis": null}, "y": {"datum": -0.052, "type": "quantitative", "scale": {"domain": [-0.052, 1.137], "nice": false, "zero": false}, "axis": null}}},
   {"data": {"name": "bXAll"}, "mark": {"type": "tick", "orient": "vertical", "size": 20, "clip": true},
    "encoding": {"x": {"field": "v", "type": "quantitative", "scale": {"domain": [-15.73, 16.78], "nice": false, "zero": false}, "axis": null}, "y": {"datum": 1.137, "type": "quantitative", "scale": {"domain": [-0.052, 1.137], "nice": false, "zero": false}, "axis": null}}},
   {"data": {"name": "bY"}, "mark": {"type": "tick", "orient": "horizontal", "size": 20, "clip": true},
    "encoding": {"y": {"field": "v", "type": "quantitative", "scale": {"domain": [-0.052, 1.137], "nice": false, "zero": false}, "axis": null}, "x": {"datum": -15.73, "type": "quantitative", "scale": {"domain": [-15.73, 16.78], "nice": false, "zero": false}, "axis": null}}},
   {"data": {"name": "bY"}, "mark": {"type": "tick", "orient": "horizontal", "size": 20, "clip": true},
    "encoding": {"y": {"field": "v", "type": "quantitative", "scale": {"domain": [-0.052, 1.137], "nice": false, "zero": false}, "axis": null}, "x": {"datum": 16.78, "type": "quantitative", "scale": {"domain": [-15.73, 16.78], "nice": false, "zero": false}, "axis": null}}},
   {"data": {"values": [{}]}, "mark": {"type": "rule", "color": "#c1272d", "strokeWidth": 1.5},
    "encoding": {"x": {"datum": 1.87, "type": "quantitative", "scale": {"domain": [-15.73, 16.78], "nice": false, "zero": false}, "axis": null}, "x2": {"datum": 3.57}, "y": {"datum": 0.878, "type": "quantitative", "scale": {"domain": [-0.052, 1.137], "nice": false, "zero": false}, "axis": null}}},
   {"data": {"values": [{}]}, "mark": {"type": "point", "filled": true, "shape": "circle", "size": 45, "fill": "#ffffff", "stroke": "#c1272d", "strokeWidth": 1.6, "opacity": 1},
    "encoding": {"x": {"datum": 1.87, "type": "quantitative", "scale": {"domain": [-15.73, 16.78], "nice": false, "zero": false}, "axis": null}, "y": {"datum": 0.878, "type": "quantitative", "scale": {"domain": [-0.052, 1.137], "nice": false, "zero": false}, "axis": null}}},
   {"data": {"values": [{}]}, "mark": {"type": "point", "filled": true, "shape": "circle", "size": 45, "fill": "#ffffff", "stroke": "#c1272d", "strokeWidth": 1.6, "opacity": 1},
    "encoding": {"x": {"datum": 3.57, "type": "quantitative", "scale": {"domain": [-15.73, 16.78], "nice": false, "zero": false}, "axis": null}, "y": {"datum": 0.878, "type": "quantitative", "scale": {"domain": [-0.052, 1.137], "nice": false, "zero": false}, "axis": null}}},
   {"data": {"values": [{}]}, "mark": {"type": "point", "filled": true, "shape": "diamond", "size": 70, "fill": "#333333", "stroke": "#000000", "strokeWidth": 0.8, "opacity": 1},
    "encoding": {"x": {"datum": 2.75, "type": "quantitative", "scale": {"domain": [-15.73, 16.78], "nice": false, "zero": false}, "axis": null}, "y": {"datum": 0.789, "type": "quantitative", "scale": {"domain": [-0.052, 1.137], "nice": false, "zero": false}, "axis": null}}},
   {"data": {"values": [{}]}, "mark": {"type": "point", "filled": true, "shape": "circle", "size": 50, "fill": "#5a5eae", "stroke": "#2e3290", "strokeWidth": 0.8, "opacity": 1},
    "encoding": {"x": {"datum": 2.75, "type": "quantitative", "scale": {"domain": [-15.73, 16.78], "nice": false, "zero": false}, "axis": null}, "y": {"datum": 0.704, "type": "quantitative", "scale": {"domain": [-0.052, 1.137], "nice": false, "zero": false}, "axis": null}}},
   {"data": {"values": [{}]}, "mark": {"type": "text", "text": "ChIP-seq data"},
    "encoding": {"x": {"datum": 4.62, "type": "quantitative", "scale": {"domain": [-15.73, 16.78], "nice": false, "zero": false}, "axis": null}, "y": {"datum": 0.878, "type": "quantitative", "scale": {"domain": [-0.052, 1.137], "nice": false, "zero": false}, "axis": null}}},
   {"data": {"values": [{}]}, "mark": {"type": "text", "text": "MC w/o roadblock"},
    "encoding": {"x": {"datum": 4.62, "type": "quantitative", "scale": {"domain": [-15.73, 16.78], "nice": false, "zero": false}, "axis": null}, "y": {"datum": 0.789, "type": "quantitative", "scale": {"domain": [-0.052, 1.137], "nice": false, "zero": false}, "axis": null}}},
   {"data": {"values": [{}]}, "mark": {"type": "text", "text": "MC with roadblock"},
    "encoding": {"x": {"datum": 4.62, "type": "quantitative", "scale": {"domain": [-15.73, 16.78], "nice": false, "zero": false}, "axis": null}, "y": {"datum": 0.704, "type": "quantitative", "scale": {"domain": [-0.052, 1.137], "nice": false, "zero": false}, "axis": null}}},
   {
    "data": {"values": [{}]},
    "mark": {"type": "text", "text": "B", "align": "left", "baseline": "alphabetic", "fontSize": 16, "fontWeight": "bold"},
    "encoding": {
     "x": {"datum": -20.41, "type": "quantitative", "scale": {"domain": [-15.73, 16.78], "nice": false, "zero": false}, "axis": null},
     "y": {"datum": 1.125, "type": "quantitative", "scale": {"domain": [-0.052, 1.137], "nice": false, "zero": false}, "axis": null}
    }
   }
  ]
 }
]
}
